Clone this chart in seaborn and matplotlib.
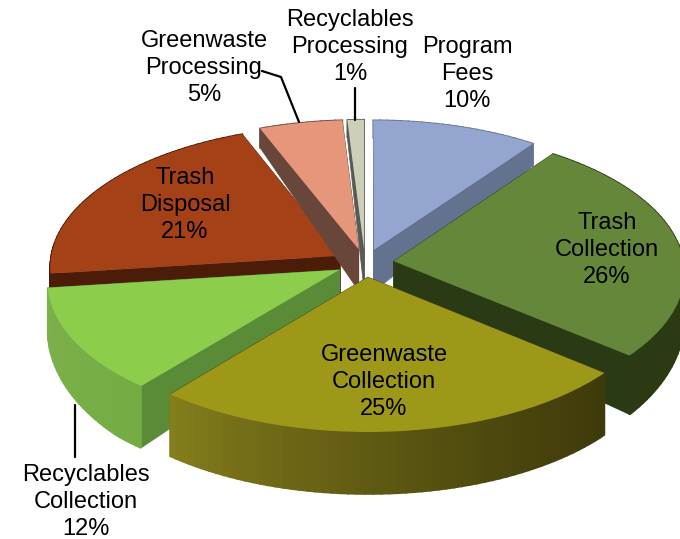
import numpy as np
import seaborn as sns
import matplotlib.pyplot as plt
from matplotlib.colors import to_rgb
from matplotlib.transforms import Transform

# cost shares, clockwise from 12 o'clock
labels = ['Program\nFees', 'Trash\nCollection', 'Greenwaste\nCollection', 'Recyclables\nCollection',
          'Trash\nDisposal', 'Greenwaste\nProcessing', 'Recyclables\nProcessing']
shares = [10, 26, 25, 12, 21, 5, 1]

top_colors = ['#94a5d0', '#64873a', '#9e9819', '#8ccd4c', '#a54116', '#e6967a', '#cdcfb9']
cut_colors = ['#62728f', '#2a3a14', '#423d0a', '#5a8c38', '#4b1c08', '#69463a', '#5a5a55']
rim_left = ['#64738f', '#2c3a14', '#85801c', '#7cb04a', '#4b1c08', '#69463a', '#5a5a55']
rim_right = ['#64738f', '#2c3a14', '#3f3a0a', '#74ac44', '#4b1c08', '#69463a', '#5a5a55']
# back to front
draw_order = [4, 6, 5, 0, 1, 3, 2]
label_pos = [(467, 74), (607, 250), (384, 382), (86, 502), (185, 205), (204, 68), (350, 47)]

# view of the pie plane
CX, CY = 365, 263
RX, RY, PERSP = 290, 141, 0.075


def project(u, v):
    u, v = np.asarray(u, float), np.asarray(v, float)
    w = 1 + PERSP * v
    return CX + RX * u / w, CY - RY * v / w


def depth(v):
    return np.minimum(62, 44 * (1 - 0.55 * np.asarray(v, float)))


class PieView(Transform):
    input_dims = output_dims = 2

    def transform_non_affine(self, values):
        x, y = project(values[:, 0], values[:, 1])
        return np.column_stack([x, y])


sns.set_theme(style='white')
plt.rcParams['font.family'] = ['Liberation Sans', 'DejaVu Sans']

fig = plt.figure(figsize=(6.8, 5.39), dpi=100)
ax = fig.add_axes([0, 0, 1, 1])
wedges, _ = ax.pie(shares, startangle=90, counterclock=False, explode=[0.1] * len(shares),
                   colors=top_colors, wedgeprops={'linewidth': 0})
ax.set_aspect('auto')
ax.set_xlim(0, 680)
ax.set_ylim(539, 0)
ax.axis('off')

view = PieView() + ax.transData
for order, i in enumerate(draw_order):
    w = wedges[i]
    base = 10 + order * 5
    w.set_transform(view)
    w.set_zorder(base + 2)
    cu, cv = w.center

    # the two cut faces
    for theta in (w.theta1, w.theta2):
        eu = cu + np.cos(np.radians(theta))
        ev = cv + np.sin(np.radians(theta))
        ax_, ay_ = project(cu, cv)
        ex_, ey_ = project(eu, ev)
        ax.fill([ax_, ex_, ex_, ax_], [ay_, ey_, ey_ + depth(ev), ay_ + depth(cv)],
                color=cut_colors[i], lw=0.5, zorder=base)

    # outer rim, shaded left to right
    left, right = np.array(to_rgb(rim_left[i])), np.array(to_rgb(rim_right[i]))
    angles = np.radians(np.arange(w.theta1, w.theta2 + 1.5, 1.5).clip(max=w.theta2))
    us, vs = cu + np.cos(angles), cv + np.sin(angles)
    xs, ys = project(us, vs)
    ds = depth(vs)
    span = max(xs.max() - xs.min(), 1)
    for k in range(len(angles) - 1):
        frac = (((xs[k] + xs[k + 1]) / 2 - xs.min()) / span) ** 0.8
        shade = left + (right - left) * frac
        ax.fill([xs[k], xs[k + 1], xs[k + 1], xs[k]],
                [ys[k], ys[k + 1], ys[k + 1] + ds[k + 1], ys[k] + ds[k]],
                facecolor=shade, edgecolor=shade, lw=1.2, zorder=base + 1)

# leader lines
ax.plot([75, 75], [405, 457], color='black', lw=1.6, zorder=90)
ax.plot([262, 281, 299], [71, 77, 122], color='black', lw=1.6, zorder=90)
ax.plot([355, 355], [88, 120], color='black', lw=1.6, zorder=90)

for label, share, (x, y) in zip(labels, shares, label_pos):
    ax.text(x, y, f'{label}\n{share}%', ha='center', va='center', fontsize=17,
            linespacing=1.27, color='black', zorder=100)

fig.savefig('out.png', dpi=100)
